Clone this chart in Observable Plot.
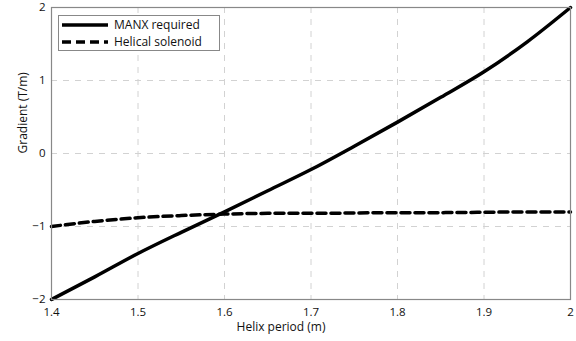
<!DOCTYPE html>
<html><head><meta charset="utf-8">
<script src="https://cdn.jsdelivr.net/npm/d3@7"></script>
<script src="https://cdn.jsdelivr.net/npm/@observablehq/plot@0.6"></script>
<style>
body{margin:0;background:#fff;font-family:"Open Sans",sans-serif;}
#wrap{position:relative;width:576px;height:341px;}
#legend{position:absolute;left:58px;top:15px;width:160px;height:34px;border:1px solid #888;background:#fff;font-size:12px;color:#111;}
.row{position:absolute;left:3px;height:17px;display:flex;align-items:center;}
.row span{margin-left:6px;}
</style></head><body>
<div id="wrap"></div>
<script>
const period = [1.4,1.45,1.5,1.55,1.6,1.65,1.7,1.75,1.8,1.85,1.9,1.95,2.0];
const manx = [-2,-1.69,-1.37,-1.08,-0.80,-0.51,-0.22,0.10,0.43,0.77,1.12,1.53,2.0];
const helical = [-1.0,-0.93,-0.88,-0.85,-0.83,-0.82,-0.82,-0.815,-0.81,-0.81,-0.805,-0.80,-0.80];
const xTicks = [1.4,1.5,1.6,1.7,1.8,1.9,2];
const yTicks = [-2,-1,0,1,2];
const seriesNames = ["MANX required","Helical solenoid"];

const rowsM = period.map((p,i)=>({x:p,y:manx[i]}));
const rowsH = period.map((p,i)=>({x:p,y:helical[i]}));

const chart = Plot.plot({
  width:576, height:341,
  marginLeft:51, marginRight:6, marginTop:7, marginBottom:42,
  style:{fontFamily:"Open Sans, sans-serif", fontSize:"11px", color:"#111"},
  x:{domain:[1.4,2]},
  y:{domain:[-2,2]},
  marks:[
    Plot.gridX(xTicks.slice(1,-1),{stroke:"#d2d2d2",strokeOpacity:1,strokeDasharray:"6,6"}),
    Plot.gridY(yTicks.slice(1,-1),{stroke:"#d2d2d2",strokeOpacity:1,strokeDasharray:"6,6"}),
    Plot.line(rowsH,{x:"x",y:"y",curve:"monotone-x",stroke:"#000",strokeWidth:3.5,strokeDasharray:"9,5"}),
    Plot.line(rowsM,{x:"x",y:"y",curve:"monotone-x",stroke:"#000",strokeWidth:3.5}),
    Plot.frame({stroke:"#888",strokeWidth:1.2}),
    Plot.axisX(xTicks,{tickSize:0,tickPadding:8,tickFormat:d=>String(d),label:null,fontSize:11.5}),
    Plot.axisY(yTicks,{tickSize:0,tickPadding:6,tickFormat:d=>d<0?"\u2212"+Math.abs(d):String(d),label:null,fontSize:11.5}),
    Plot.text(["Helix period (m)"],{frameAnchor:"bottom",dy:31,dx:-30,fontSize:12,fill:"#111"}),
    Plot.text(["Gradient (T/m)"],{frameAnchor:"left",dx:-28,rotate:-90,fontSize:12,fill:"#111"})
  ]
});
const wrap = document.getElementById("wrap");
wrap.appendChild(chart);
const lg = document.createElement("div");
lg.id = "legend";
const dashes = ["", "9,5"];
seriesNames.forEach((n,i)=>{
  const r = document.createElement("div");
  r.className = "row";
  r.style.top = (i*17)+"px";
  r.innerHTML = `<svg width="46" height="6"><line x1="0" x2="46" y1="3" y2="3" stroke="#000" stroke-width="3.5" ${dashes[i]?`stroke-dasharray="${dashes[i]}"`:""}/></svg><span>${n}</span>`;
  lg.appendChild(r);
});
wrap.appendChild(lg);
</script>
</body></html>
